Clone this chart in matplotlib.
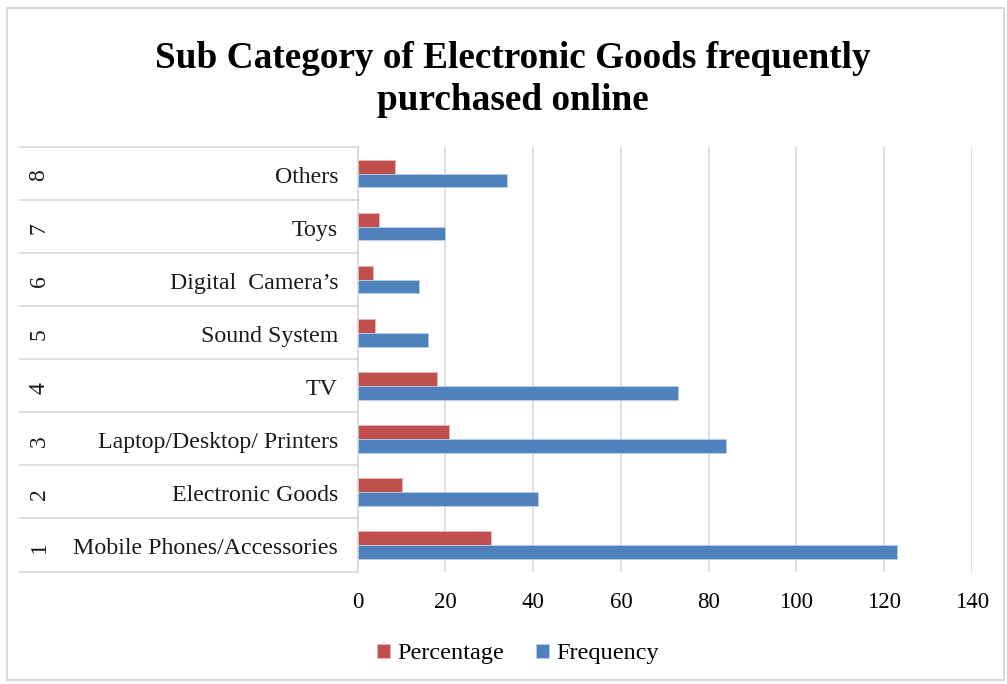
import matplotlib
matplotlib.use("Agg")
import matplotlib.pyplot as plt
import matplotlib.transforms as mtransforms
from matplotlib.patches import Rectangle
import numpy as np

categories = [
    "Mobile Phones/Accessories",
    "Electronic Goods",
    "Laptop/Desktop/ Printers",
    "TV",
    "Sound System",
    "Digital  Camera\u2019s",
    "Toys",
    "Others",
]
codes = ["1", "2", "3", "4", "5", "6", "7", "8"]
frequency = [123, 41, 84, 73, 16, 14, 20, 34]
percentage = [30.37, 10.12, 20.74, 18.02, 3.95, 3.46, 4.94, 8.40]
x_ticks = [0, 20, 40, 60, 80, 100, 120, 140]

RED = "#C0504D"
BLUE = "#4F81BD"
GRID = "#D9D9D9"
SERIF = ["Liberation Serif", "DejaVu Serif"]

W, H = 1007, 684
fig = plt.figure(figsize=(W / 100, H / 100), dpi=100)
fig.patch.set_facecolor("white")

# outer chart frame
fig.add_artist(Rectangle((7 / W, 4 / H), (1004 - 7) / W, (676 - 4) / H,
                         transform=fig.transFigure, fill=False,
                         edgecolor="#D9D9D9", linewidth=1.5))

x0, x1 = 357.7, 972.0
y_top, y_bot = 147.0, 571.5
ax = fig.add_axes([x0 / W, 1 - y_bot / H, (x1 - x0) / W, (y_bot - y_top) / H])

n = len(categories)
y = np.arange(n)
bh = 0.26
ax.barh(y + bh / 2, percentage, height=bh, color=RED, edgecolor="#E6B9B8",
        linewidth=0.6, label="Percentage", zorder=3)
ax.barh(y - bh / 2, frequency, height=bh, color=BLUE, edgecolor="#B9CDE5",
        linewidth=0.6, label="Frequency", zorder=3)

ax.set_xlim(0, 140)
ax.set_ylim(-0.5, n - 0.5)
ax.set_xticks(x_ticks)
ax.set_xticklabels([str(t) for t in x_ticks], fontfamily=SERIF, fontsize=16.5)
ax.tick_params(axis="x", length=0, pad=15)
ax.set_yticks([])
ax.xaxis.grid(True, color=GRID, linewidth=1.2, zorder=0)
for s in ["top", "right", "bottom"]:
    ax.spines[s].set_visible(False)
ax.spines["left"].set_color(GRID)
ax.spines["left"].set_linewidth(1.2)

# two-level category table to the left of the axis
left_ax = (20 - x0) / (x1 - x0)
trans = mtransforms.blended_transform_factory(ax.transAxes, ax.transData)
for b in np.arange(-0.5, n, 1.0):
    ax.plot([left_ax, 0], [b, b], transform=trans, color=GRID,
            linewidth=1.2, clip_on=False, zorder=1)

label_x = (338 - x0) / (x1 - x0)
code_x = (39 - x0) / (x1 - x0)
for i, (cat, code) in enumerate(zip(categories, codes)):
    ax.text(label_x, i - 0.075, cat, transform=trans, ha="right", va="center",
            fontfamily=SERIF, fontsize=17.2, color="#1a1a1a")
    ax.text(code_x, i - 0.035, code, transform=trans, ha="center", va="center",
            rotation=90, fontfamily=SERIF, fontsize=17, color="#1a1a1a")

fig.text(513 / W, 1 - 58 / H, "Sub Category of Electronic Goods frequently",
         ha="center", va="center", fontfamily=SERIF, fontweight="bold",
         fontsize=26.8)
fig.text(513 / W, 1 - 100 / H, "purchased online",
         ha="center", va="center", fontfamily=SERIF, fontweight="bold",
         fontsize=26.8)

leg = fig.legend(loc="center", bbox_to_anchor=(518 / W, 1 - 654 / H),
                 ncol=2, frameon=False, handlelength=0.55, handleheight=0.55,
                 handletextpad=0.3, columnspacing=1.3,
                 prop={"family": SERIF, "size": 17.5})

fig.savefig("out.png", dpi=100, facecolor="white")
